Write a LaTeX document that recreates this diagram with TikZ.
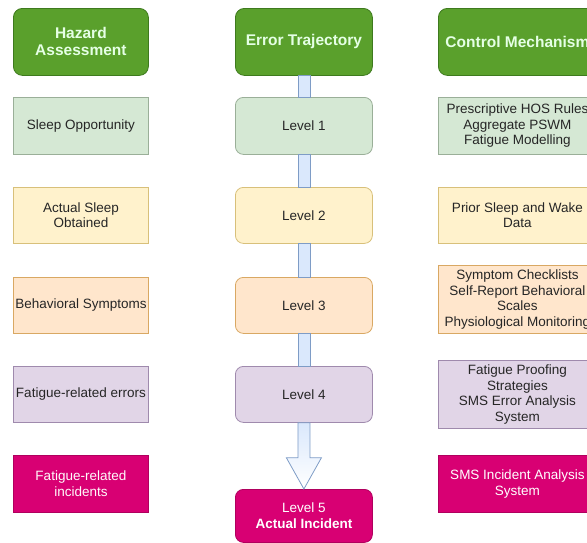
\documentclass[tikz,border=0pt]{standalone}
\usepackage{fontspec}
\setmainfont{Liberation Sans}
\begin{document}
\begin{tikzpicture}[x=1pt,y=-1pt,
  base/.style={draw, anchor=north west, align=center, inner sep=2pt, line width=0.8pt,
    font=\fontsize{13.5}{15.5}\selectfont, text=black!85},
  head/.style={base, rounded corners=9pt, fill=hgreen, draw=hgreenD, text=white!90!green,
    font=\bfseries\fontsize{15.5}{17}\selectfont},
  lvl/.style={base, rounded corners=8pt},
  gbox/.style={fill=gfill, draw=gdraw},
  ybox/.style={fill=yfill, draw=ydraw},
  obox/.style={fill=ofill, draw=odraw},
  pbox/.style={fill=pfill, draw=pdraw},
  mbox/.style={fill=mfill, draw=mdraw, text=white},
  conn/.style={fill=cfill, draw=cdraw, line width=0.8pt},
]
\definecolor{hgreen}{HTML}{5AA02C}
\definecolor{hgreenD}{HTML}{3E7A1E}
\definecolor{gfill}{HTML}{D5E8D4}
\definecolor{gdraw}{HTML}{9AAF98}
\definecolor{yfill}{HTML}{FFF2CC}
\definecolor{ydraw}{HTML}{D8C07A}
\definecolor{ofill}{HTML}{FFE6CC}
\definecolor{odraw}{HTML}{D9A863}
\definecolor{pfill}{HTML}{E1D5E7}
\definecolor{pdraw}{HTML}{9F8AAD}
\definecolor{mfill}{HTML}{D80073}
\definecolor{mdraw}{HTML}{B0005E}
\definecolor{cfill}{HTML}{DAE8FC}
\definecolor{cdraw}{HTML}{7E9CC6}
\useasboundingbox (0,0) rectangle (587,542);
\clip (0,0) rectangle (587,542);

% left column
\node[head, minimum width=135pt, minimum height=67pt] (h1) at (13,8) {Hazard\\Assessment};
\node[base, gbox, minimum width=135pt, minimum height=57pt] (a1) at (13,97) {Sleep Opportunity};
\node[base, ybox, minimum width=135pt, minimum height=56pt] (a2) at (13,187) {Actual Sleep\\Obtained};
\node[base, obox, minimum width=135pt, minimum height=56pt] (a3) at (13,277) {Behavioral Symptoms};
\node[base, pbox, minimum width=135pt, minimum height=56pt] (a4) at (13,366) {Fatigue-related errors};
\node[base, mbox, minimum width=135pt, minimum height=57pt, text=white!92!pink] (a5) at (13,455) {Fatigue-related\\incidents};

% middle column
\node[head, minimum width=137pt, minimum height=67pt] (h2) at (235,8) {Error Trajectory};
\node[lvl, gbox, minimum width=137pt, minimum height=57pt] (l1) at (235,97) {Level 1};
\node[lvl, ybox, minimum width=137pt, minimum height=56pt] (l2) at (235,187) {Level 2};
\node[lvl, obox, minimum width=137pt, minimum height=56pt] (l3) at (235,277) {Level 3};
\node[lvl, pbox, minimum width=137pt, minimum height=56pt] (l4) at (235,366) {Level 4};
\node[lvl, mbox, minimum width=137pt, minimum height=53pt] (l5) at (235,489) {Level 5\\\textbf{Actual Incident}};

% right column
\node[head, minimum width=158pt, minimum height=67pt] (h3) at (438,8) {Control Mechanism};
\node[base, gbox, minimum width=158pt, minimum height=57pt] (c1) at (438,97) {Prescriptive HOS Rules\\Aggregate PSWM\\Fatigue Modelling};
\node[base, ybox, minimum width=158pt, minimum height=56pt] (c2) at (438,187) {Prior Sleep and Wake\\Data};
\node[base, obox, minimum width=158pt, minimum height=68pt] (c3) at (438,265) {Symptom Checklists\\Self-Report Behavioral\\Scales\\Physiological Monitoring};
\node[base, pbox, minimum width=158pt, minimum height=68pt] (c4) at (438,360) {Fatigue Proofing\\Strategies\\SMS Error Analysis\\System};
\node[base, mbox, minimum width=158pt, minimum height=57pt] (c5) at (438,455) {SMS Incident Analysis\\System};

% connectors
\draw[conn] ([xshift=-6pt]h2.south) rectangle ([xshift=6pt]l1.north);
\draw[conn] ([xshift=-6pt]l1.south) rectangle ([xshift=6pt]l2.north);
\draw[conn] ([xshift=-6pt]l2.south) rectangle ([xshift=6pt]l3.north);
\draw[conn] ([xshift=-6pt]l3.south) rectangle ([xshift=6pt]l4.north);
\draw[line width=0.8pt, draw=cdraw, top color=cfill, bottom color=white]
  ([xshift=-6pt]l4.south) -- ([xshift=-6pt,yshift=-35pt]l4.south)
  -- ([xshift=-17.5pt,yshift=-35pt]l4.south) -- (l5.north)
  -- ([xshift=17.5pt,yshift=-35pt]l4.south) -- ([xshift=6pt,yshift=-35pt]l4.south)
  -- ([xshift=6pt]l4.south) -- cycle;
\end{tikzpicture}
\end{document}
